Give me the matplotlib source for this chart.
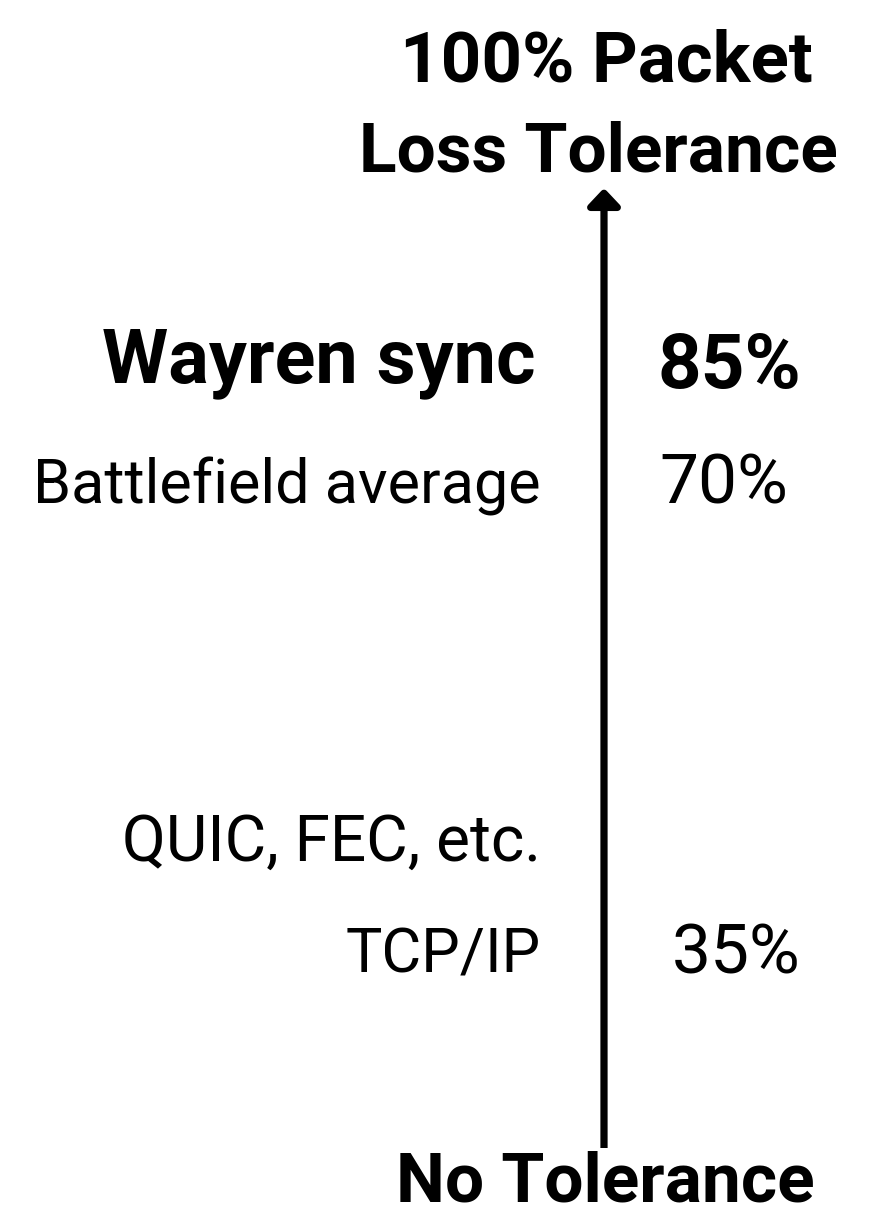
import matplotlib
matplotlib.use("Agg")
import matplotlib.pyplot as plt
from matplotlib.patches import FancyArrowPatch

plt.rcParams['font.family'] = ['Roboto', 'DejaVu Sans']

# Data
protocols = ["Wayren sync", "Battlefield average", "QUIC, FEC, etc.", "TCP/IP"]
tolerance = ["85%", "70%", None, "35%"]
top_label = ["100% Packet", "Loss Tolerance"]
bottom_label = "No Tolerance"

# Layout (pixel coordinates, y downward, baselines)
label_base = [382, 503, 861, 973]
label_right = [535, 541, 541, 541]
label_size = [54.5, 44, 46, 44]
label_weight = ["bold", "normal", "normal", "normal"]
value_base = [388, 503, None, 973]
value_center = [729, 724, None, 736]
value_size = [55, 50, None, 50]
value_weight = ["semibold", "normal", None, "normal"]

W, H = 876, 1217
fig = plt.figure(figsize=(W / 100, H / 100), dpi=100)
ax = fig.add_axes([0, 0, 1, 1])
ax.set_xlim(0, W)
ax.set_ylim(H, 0)
ax.axis("off")

arrow_x = 604
arr = FancyArrowPatch((arrow_x, 1148), (arrow_x, 188),
                      arrowstyle="-|>,head_length=0.85,head_width=0.8",
                      mutation_scale=12, lw=5.2, color="black",
                      capstyle="butt", joinstyle="round", shrinkA=0, shrinkB=0)
ax.add_patch(arr)

ax.text(606, 82, top_label[0], ha="center", va="baseline", fontsize=51, fontweight="bold")
ax.text(598, 172, top_label[1], ha="center", va="baseline", fontsize=50, fontweight="bold")
ax.text(605, 1216, bottom_label, ha="center", va="bottom", fontsize=50, fontweight="bold")

for i, lab in enumerate(protocols):
    ax.text(label_right[i], label_base[i], lab, ha="right", va="baseline",
            fontsize=label_size[i], fontweight=label_weight[i])
    if tolerance[i] is not None:
        ax.text(value_center[i], value_base[i], tolerance[i], ha="center", va="baseline",
                fontsize=value_size[i], fontweight=value_weight[i])

fig.savefig("out.png", dpi=100, facecolor="white")
